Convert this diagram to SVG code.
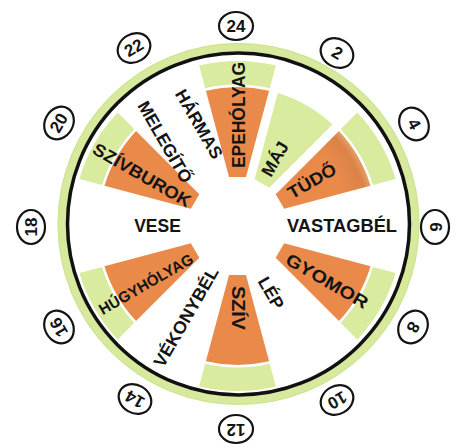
<svg xmlns="http://www.w3.org/2000/svg" width="461" height="446" viewBox="0 0 461 446">
  <style>
    .org { fill: #e98a4b; }
    .lg { fill: #d8eb9f; }
    .lbl { font-family: "Liberation Sans", Arial, sans-serif; font-weight: bold; font-size: 17.5px; fill: #141414; text-anchor: middle; dominant-baseline: central; }
    .hour ellipse { fill: #ffffff; stroke: #141414; stroke-width: 2.2; }
    .hour text { font-family: "Liberation Sans", Arial, sans-serif; font-weight: bold; font-size: 17px; fill: #141414; text-anchor: middle; dominant-baseline: central; }
  </style>
  <defs>
    <!-- inner wedge of a 30° sector, axis pointing up, origin at the dial centre -->
    <path id="wedge" d="M -8.47,-49 L -31.61,-135.36 A 139 139 0 0 1 31.61,-135.36 L 8.47,-49 Z"/>
    <!-- outer band of a sector -->
    <path id="band" d="M -32.26,-137.77 L -38.34,-160.48 A 165 165 0 0 1 38.34,-160.48 L 32.26,-137.77 A 141.5 141.5 0 0 0 -32.26,-137.77 Z"/>
    <radialGradient id="tudoShade" gradientUnits="userSpaceOnUse" cx="0" cy="0" r="139">
      <stop offset="0.8" stop-color="#e98a4b"/>
      <stop offset="0.95" stop-color="#db8247"/>
      <stop offset="1" stop-color="#e6a063"/>
    </radialGradient>
  </defs>

  <rect width="461" height="446" fill="#ffffff"/>

  <!-- dial rim -->
  <g id="rim">
    <circle cx="238.5" cy="224" r="176.5" fill="none" stroke="#d6e99d" stroke-width="9"/>
    <circle cx="238.5" cy="224" r="180.5" fill="none" stroke="#c9df88" stroke-width="1" opacity="0.7"/>
    <circle cx="238.5" cy="224" r="171" fill="none" stroke="#111111" stroke-width="3.5"/>
  </g>

  <!-- organ sectors -->
  <g id="sector-epeholyag">
    <g transform="translate(237.5,226) rotate(0)"><use href="#wedge" class="org"/><use href="#band" class="lg"/></g>
    <text class="lbl" transform="translate(239,115) rotate(-90)" textLength="106" lengthAdjust="spacingAndGlyphs">EPEHÓLYAG</text>
  </g>
  <g id="sector-maj">
    <g transform="translate(237.5,226) rotate(30)"><use href="#wedge" class="lg"/></g>
    <text class="lbl" transform="translate(275,159) rotate(-60)">MÁJ</text>
  </g>
  <g id="sector-tudo">
    <g transform="translate(237.5,226) rotate(60)"><use href="#wedge" fill="url(#tudoShade)"/><use href="#band" class="lg"/></g>
    <text class="lbl" transform="translate(312,181) rotate(-30)" textLength="53" lengthAdjust="spacingAndGlyphs">TÜDŐ</text>
  </g>
  <g id="sector-vastagbel">
    <text class="lbl" transform="translate(342,226)" textLength="110" lengthAdjust="spacingAndGlyphs">VASTAGBÉL</text>
  </g>
  <g id="sector-gyomor">
    <g transform="translate(237.5,226) rotate(120)"><use href="#wedge" class="org"/><use href="#band" class="lg"/></g>
    <text class="lbl" transform="translate(327,281) rotate(30)" textLength="92" lengthAdjust="spacingAndGlyphs">GYOMOR</text>
  </g>
  <g id="sector-lep">
    <text class="lbl" transform="translate(271,293) rotate(60)">LÉP</text>
  </g>
  <g id="sector-sziv">
    <g transform="translate(237.5,226) rotate(180)"><use href="#wedge" class="org"/><use href="#band" class="lg"/></g>
    <text class="lbl" transform="translate(238,308) rotate(90)" textLength="44" lengthAdjust="spacingAndGlyphs">SZÍV</text>
  </g>
  <g id="sector-vekonybel">
    <text class="lbl" transform="translate(186,317) rotate(-60)" textLength="112" lengthAdjust="spacingAndGlyphs">VÉKONYBÉL</text>
  </g>
  <g id="sector-hugyholyag">
    <g transform="translate(237.5,226) rotate(240)"><use href="#wedge" class="org"/><use href="#band" class="lg"/></g>
    <text class="lbl" transform="translate(146,284) rotate(-30)" style="font-size:15.5px" textLength="106" lengthAdjust="spacingAndGlyphs">HÚGYHÓLYAG</text>
  </g>
  <g id="sector-vese">
    <text class="lbl" transform="translate(157.5,226)">VESE</text>
  </g>
  <g id="sector-szivburok">
    <g transform="translate(237.5,226) rotate(300)"><use href="#wedge" class="org"/><use href="#band" class="lg"/></g>
    <text class="lbl" transform="translate(142,175) rotate(30)" textLength="110" lengthAdjust="spacingAndGlyphs">SZÍVBUROK</text>
  </g>
  <g id="sector-harmas-melegito">
    <text class="lbl" transform="translate(199,124) rotate(60)">HÁRMAS</text>
    <text class="lbl" transform="translate(165,142) rotate(60)">MELEGÍTŐ</text>
  </g>

  <!-- hour markers -->
  <g id="hour-24" class="hour" transform="translate(236,26) rotate(0)"><ellipse rx="17" ry="14"/><text>24</text></g>
  <g id="hour-2" class="hour" transform="translate(337,53) rotate(30)"><ellipse rx="17" ry="14"/><text>2</text></g>
  <g id="hour-4" class="hour" transform="translate(414,124) rotate(60)"><ellipse rx="17" ry="14"/><text>4</text></g>
  <g id="hour-6" class="hour" transform="translate(435,227) rotate(90)"><ellipse rx="17" ry="14"/><text>6</text></g>
  <g id="hour-8" class="hour" transform="translate(413,327) rotate(120)"><ellipse rx="17" ry="14"/><text>8</text></g>
  <g id="hour-10" class="hour" transform="translate(337,400) rotate(150)"><ellipse rx="17" ry="14"/><text>10</text></g>
  <g id="hour-12" class="hour" transform="translate(236,429) rotate(180)"><ellipse rx="17" ry="14"/><text>12</text></g>
  <g id="hour-14" class="hour" transform="translate(135,399) rotate(210)"><ellipse rx="17" ry="14"/><text>14</text></g>
  <g id="hour-16" class="hour" transform="translate(59,327) rotate(240)"><ellipse rx="17" ry="14"/><text>16</text></g>
  <g id="hour-18" class="hour" transform="translate(31,227) rotate(270)"><ellipse rx="17" ry="14"/><text>18</text></g>
  <g id="hour-20" class="hour" transform="translate(59,123) rotate(300)"><ellipse rx="17" ry="14"/><text>20</text></g>
  <g id="hour-22" class="hour" transform="translate(134,48) rotate(330)"><ellipse rx="17" ry="14"/><text>22</text></g>
</svg>
